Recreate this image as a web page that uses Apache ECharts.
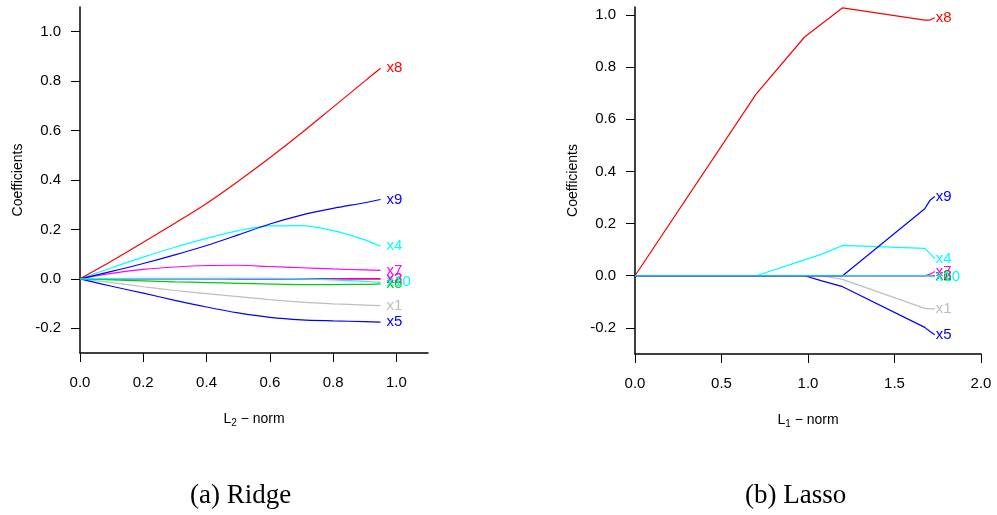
<!DOCTYPE html>
<html>
<head>
<meta charset="utf-8">
<script src="https://cdn.jsdelivr.net/npm/echarts@6.0.0/dist/echarts.min.js"></script>
<style>
  html, body { margin: 0; padding: 0; background: #fff; }
  #main { width: 997px; height: 515px; }
</style>
</head>
<body>
<div id="main"></div>
<script>
// ridge path (L2 norm on x)
var ridgeX = [0, 0.1, 0.2, 0.3, 0.4, 0.5, 0.6, 0.7, 0.8, 0.9, 0.95];
var ridgeX1 = [0, -0.015, -0.032, -0.047, -0.06, -0.072, -0.084, -0.094, -0.101, -0.106, -0.108];
var ridgeX2 = [0, 0, 0.001, 0.001, 0.001, 0.001, 0.001, 0.001, 0.001, 0.001, 0.001];
var ridgeX3 = [0, 0, 0, 0, 0, -0.001, -0.001, -0.001, -0.001, -0.001, -0.001];
var ridgeX4 = [0, 0.045, 0.088, 0.128, 0.164, 0.195, 0.214, 0.215, 0.195, 0.158, 0.132];
var ridgeX5 = [0, -0.03, -0.058, -0.087, -0.114, -0.138, -0.156, -0.166, -0.17, -0.173, -0.175];
var ridgeX6 = [0, -0.004, -0.008, -0.012, -0.015, -0.018, -0.021, -0.023, -0.023, -0.022, -0.02];
var ridgeX7 = [0, 0.022, 0.038, 0.048, 0.054, 0.055, 0.05, 0.045, 0.04, 0.036, 0.034];
var ridgeX8 = [0, 0.072, 0.148, 0.225, 0.305, 0.395, 0.49, 0.59, 0.695, 0.80, 0.852];
var ridgeX9 = [0, 0.03, 0.062, 0.097, 0.135, 0.178, 0.222, 0.258, 0.285, 0.308, 0.321];
var ridgeX10 = [0, 0.001, 0.002, 0.002, 0.002, 0.002, 0.002, 0, -0.004, -0.01, -0.014];

// lasso path (L1 norm on x), breakpoints
var lassoX = [0, 0.70, 0.98, 1.08, 1.20, 1.675, 1.705, 1.733];
var lassoX1 = [0, 0, 0, 0, -0.014, -0.125, -0.127, -0.127];
var lassoX2 = [0, 0, 0, 0, 0, 0, 0, 0];
var lassoX3 = [0, 0, 0, 0, 0, 0, 0, 0];
var lassoX4 = [0, 0, 0.061, 0.083, 0.116, 0.105, 0.085, 0.066];
var lassoX5 = [0, 0, 0, -0.02, -0.042, -0.198, -0.214, -0.226];
var lassoX6 = [0, 0, 0, 0, 0, 0, 0, -0.002];
var lassoX7 = [0, 0, 0, 0, 0, 0, 0.006, 0.016];
var lassoX8 = [0, 0.696, 0.915, 0.966, 1.027, 0.98, 0.98, 0.989];
var lassoX9 = [0, 0, 0, 0, 0, 0.257, 0.289, 0.304];
var lassoX10 = [0, 0, 0, 0, 0, 0, 0, -0.003];

var varNames = ['x1', 'x2', 'x3', 'x4', 'x5', 'x6', 'x7', 'x8', 'x9', 'x10'];
var varColors = ['#bebebe', '#ff0000', '#ff00ff', '#00ffff', '#0000ff', '#00cd00', '#ff00ff', '#ff0000', '#0000ff', '#00ffff'];

var ridgeTicksX = [0, 0.2, 0.4, 0.6, 0.8, 1.0];
var lassoTicksX = [0, 0.5, 1.0, 1.5, 2.0];
var ticksY = [-0.2, 0, 0.2, 0.4, 0.6, 0.8, 1.0];

var ridgeVals = [ridgeX1, ridgeX2, ridgeX3, ridgeX4, ridgeX5, ridgeX6, ridgeX7, ridgeX8, ridgeX9, ridgeX10];
var lassoVals = [lassoX1, lassoX2, lassoX3, lassoX4, lassoX5, lassoX6, lassoX7, lassoX8, lassoX9, lassoX10];

var dom = document.getElementById('main');
var myChart = echarts.init(dom);

function fmt(v) { return v.toFixed(1); }

function makeSeries(xs, vals, idx, dist, smooth) {
    var out = [];
    for (var i = 0; i < vals.length; i++) {
        var data = [];
        for (var j = 0; j < xs.length; j++) {
            data.push([xs[j], vals[i][j]]);
        }
        out.push({
            name: varNames[i],
            type: 'line',
            xAxisIndex: idx,
            yAxisIndex: idx,
            data: data,
            smooth: smooth,
            symbol: 'none',
            animation: false,
            lineStyle: { width: 1.2, color: varColors[i] },
            itemStyle: { color: varColors[i] },
            endLabel: {
                show: true,
                formatter: '{a}',
                color: varColors[i],
                fontSize: 15,
                fontFamily: 'Liberation Sans',
                distance: dist
            }
        });
    }
    return out;
}

var axisLineCfg = { show: true, onZero: false, lineStyle: { color: '#000', width: 1.5 } };

function xAxisCfg(idx, max, ticks) {
    return {
        type: 'value', gridIndex: idx, min: 0, max: max,
        axisLine: axisLineCfg, splitLine: { show: false },
        axisTick: { show: true, length: 9, customValues: ticks, lineStyle: { color: '#000', width: 1 } },
        axisLabel: { customValues: ticks, formatter: fmt, margin: 22, fontSize: 15, color: '#000', fontFamily: 'Liberation Sans' },
        name: idx === 0 ? '{n|L}{s|2}{n| \u2212 norm}' : '{n|L}{s|1}{n| \u2212 norm}',
        nameLocation: 'middle',
        nameGap: 57,
        nameTextStyle: {
            rich: {
                n: { fontSize: 14, fontFamily: 'Liberation Sans', color: '#000' },
                s: { fontSize: 10, fontFamily: 'Liberation Sans', color: '#000', padding: [8, 0, 0, 0] }
            }
        }
    };
}

function yAxisCfg(idx, max) {
    return {
        type: 'value', gridIndex: idx, min: -0.3, max: max,
        axisLine: axisLineCfg, splitLine: { show: false },
        axisTick: { show: true, length: 9, customValues: ticksY, lineStyle: { color: '#000', width: 1 } },
        axisLabel: { customValues: ticksY, formatter: fmt, margin: 19, fontSize: 15, color: '#000', fontFamily: 'Liberation Sans' },
        name: 'Coefficients',
        nameLocation: 'middle',
        nameGap: 55,
        nameTextStyle: { fontSize: 14, fontFamily: 'Liberation Sans', color: '#000' }
    };
}

var option = {
    backgroundColor: '#fff',
    animation: false,
    grid: [
        { left: 80, top: 7, width: 348, height: 346, outerBoundsMode: 'none' },
        { left: 635, top: 7, width: 346, height: 347, outerBoundsMode: 'none' }
    ],
    xAxis: [xAxisCfg(0, 1.1, ridgeTicksX), xAxisCfg(1, 2.0, lassoTicksX)],
    yAxis: [yAxisCfg(0, 1.1), yAxisCfg(1, 1.03)],
    graphic: [
        { type: 'text', left: 190, top: 482, style: { text: '(a) Ridge', font: '27px "Liberation Serif"', fill: '#000' } },
        { type: 'text', left: 745, top: 482, style: { text: '(b) Lasso', font: '27px "Liberation Serif"', fill: '#000' } }
    ],
    series: makeSeries(ridgeX, ridgeVals, 0, 6, 0.3).concat(makeSeries(lassoX, lassoVals, 1, 1, false))
};

if (option && typeof option === "object") {
    myChart.setOption(option, true);
}
</script>
</body>
</html>
